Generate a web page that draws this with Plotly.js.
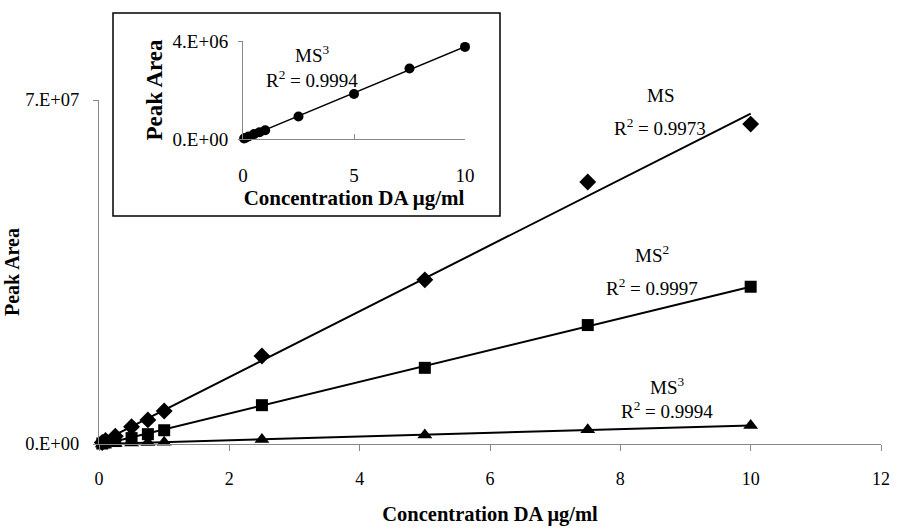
<!DOCTYPE html>
<html>
<head>
<meta charset="utf-8">
<script src="https://cdn.plot.ly/plotly-3.0.1.min.js"></script>
<style>html,body{margin:0;padding:0;background:#fff;}</style>
</head>
<body>
<div id="chart" style="width:898px;height:529px;"></div>
<script>
// ---- data ----
const concentration = [0.05, 0.1, 0.25, 0.5, 0.75, 1, 2.5, 5, 7.5, 10];
const peakMS  = [0.3e6, 0.7e6, 1.6e6, 3.5e6, 4.9e6, 6.7e6, 17.9e6, 33.4e6, 53.3e6, 65.1e6];
const peakMS2 = [0.1e6, 0.3e6, 0.6e6, 1.2e6, 2.0e6, 2.8e6, 7.9e6, 15.5e6, 24.2e6, 32.0e6];
const peakMS3 = [0.02e6, 0.04e6, 0.1e6, 0.2e6, 0.28e6, 0.36e6, 0.92e6, 1.84e6, 2.88e6, 3.76e6];
const seriesNames = ['MS', 'MS<sup>2</sup>', 'MS<sup>3</sup>'];
const r2Labels = ['R<sup>2</sup> = 0.9973', 'R<sup>2</sup> = 0.9997', 'R<sup>2</sup> = 0.9994'];
const mainYTickVals = [0, 7e7];
const mainYTickText = ['0.E+00', '7.E+07'];
const insetYTickVals = [0, 4e6];
const insetYTickText = ['0.E+00', '4.E+06'];
const xTitle = 'Concentration DA μg/ml';
const yTitle = 'Peak Area';

// least-squares linear trendline (as in the spreadsheet)
function trend(x, y) {
  const n = x.length;
  const mx = x.reduce((a, b) => a + b, 0) / n;
  const my = y.reduce((a, b) => a + b, 0) / n;
  let sxy = 0, sxx = 0;
  for (let i = 0; i < n; i++) { sxy += (x[i] - mx) * (y[i] - my); sxx += (x[i] - mx) ** 2; }
  const b = sxy / sxx, a = my - b * mx;
  const xs = [Math.min(...x), Math.max(...x)];
  return { x: xs, y: xs.map(v => a + b * v) };
}

const FONT = 'Liberation Serif, Times New Roman, serif';
const W = 898, H = 529;
const px = v => v / W, py = v => (H - v) / H;

function fitLine(y, xa, ya, w) {
  const t = trend(concentration, y);
  return { x: t.x, y: t.y, xaxis: xa, yaxis: ya, mode: 'lines', line: { color: '#000', width: w }, hoverinfo: 'skip', showlegend: false };
}
function pts(y, sym, size, xa, ya, name) {
  return { x: concentration, y: y, xaxis: xa, yaxis: ya, mode: 'markers', name: name,
    marker: { symbol: sym, size: size, color: '#000' }, cliponaxis: false, showlegend: false };
}

const traces = [
  fitLine(peakMS, 'x', 'y', 2), pts(peakMS, 'diamond', 13, 'x', 'y', 'MS'),
  fitLine(peakMS2, 'x', 'y', 2), pts(peakMS2, 'square', 12, 'x', 'y', 'MS2'),
  fitLine(peakMS3, 'x', 'y', 2), pts(peakMS3, 'triangle-up', 13, 'x', 'y', 'MS3'),
  fitLine(peakMS3, 'x2', 'y2', 1.5), pts(peakMS3, 'circle', 10, 'x2', 'y2', 'MS3 inset')
];

function label(text, x, y) {
  return { text: text, xref: 'paper', yref: 'paper', x: px(x), y: py(y),
    xanchor: 'center', yanchor: 'middle', showarrow: false, font: { size: 19 } };
}

const layout = {
  width: W, height: H,
  margin: { l: 0, r: 0, t: 0, b: 0 },
  paper_bgcolor: '#fff', plot_bgcolor: 'rgba(0,0,0,0)',
  font: { family: FONT, color: '#000', size: 18 },
  showlegend: false,
  xaxis: {
    domain: [px(99), px(881)], range: [0, 12], dtick: 2, tick0: 0,
    showline: true, linecolor: '#888', linewidth: 1, showgrid: false, zeroline: false,
    ticks: 'outside', ticklen: 6, tickcolor: '#888', ticklabelstandoff: 12,
    tickfont: { size: 18 }, automargin: false,
    title: { text: xTitle, font: { size: 20.5, weight: 'bold' }, standoff: 19 }
  },
  yaxis: {
    domain: [py(444), py(100)], range: [0, 7e7],
    tickvals: mainYTickVals, ticktext: mainYTickText,
    showline: true, linecolor: '#888', linewidth: 1, showgrid: false, zeroline: false,
    ticks: 'outside', ticklen: 5, tickcolor: '#888', ticklabelstandoff: 10,
    tickfont: { size: 18.5 }, automargin: false,
    title: { text: yTitle, font: { size: 20, weight: 'bold' }, standoff: 0 }
  },
  xaxis2: {
    domain: [px(243), px(465)], range: [0, 10], tickvals: [0, 5, 10], anchor: 'y2',
    showline: true, linecolor: '#888', linewidth: 1, showgrid: false, zeroline: false,
    ticks: 'inside', ticklen: 5, tickcolor: '#888', ticklabelstandoff: 19,
    tickfont: { size: 19 }, automargin: false,
    title: { text: xTitle, font: { size: 21, weight: 'bold' }, standoff: 0 }
  },
  yaxis2: {
    domain: [py(139), py(41)], range: [0, 4e6], anchor: 'x2',
    tickvals: insetYTickVals, ticktext: insetYTickText,
    showline: true, linecolor: '#888', linewidth: 1, showgrid: false, zeroline: false,
    ticks: 'outside', ticklen: 4, tickcolor: '#888', ticklabelstandoff: 6,
    tickfont: { size: 19 }, automargin: false,
    title: { text: yTitle, font: { size: 23, weight: 'bold' }, standoff: 3 }
  },
  shapes: [
    { type: 'rect', xref: 'paper', yref: 'paper', x0: px(113), x1: px(500), y0: py(216), y1: py(13),
      line: { color: '#000', width: 1.5 }, fillcolor: '#fff', layer: 'below' }
  ],
  annotations: [
    label(seriesNames[0], 660, 95), label(r2Labels[0], 660, 127),
    label(seriesNames[1], 652, 254), label(r2Labels[1], 652, 287),
    label(seriesNames[2], 667, 386), label(r2Labels[2], 667, 410),
    label(seriesNames[2], 312, 54), label(r2Labels[2], 312, 79)
  ]
};

Plotly.newPlot('chart', traces, layout, { staticPlot: true, displayModeBar: false });
</script>
</body>
</html>
